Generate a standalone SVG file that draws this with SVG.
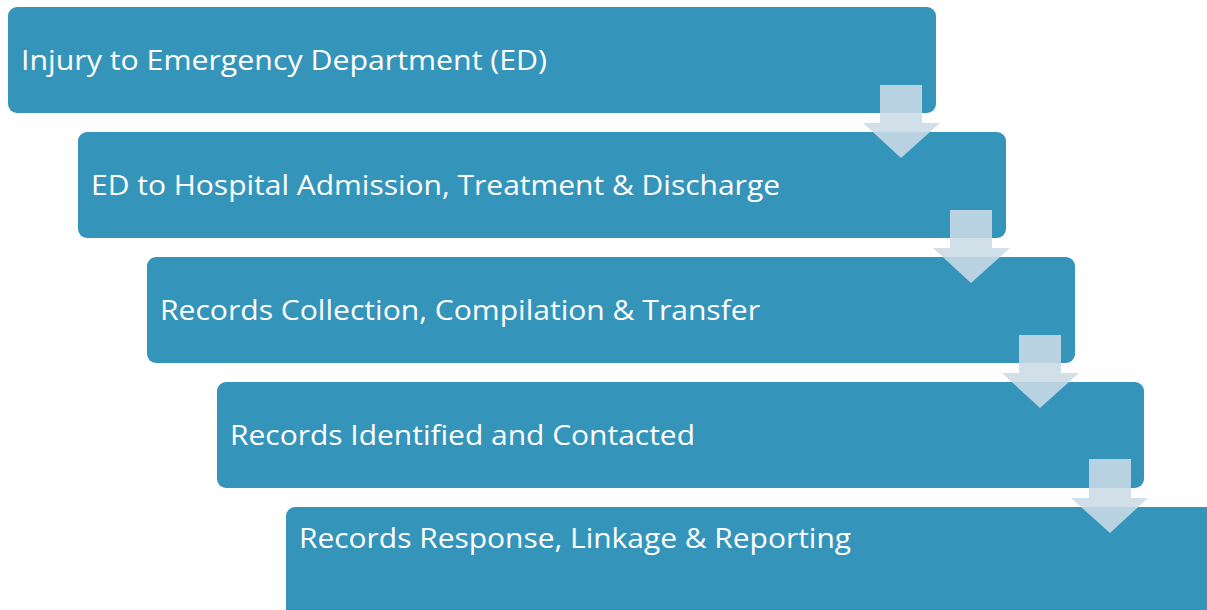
<svg xmlns="http://www.w3.org/2000/svg" width="1207" height="610" viewBox="0 0 1207 610">
<style>
.box{fill:#3594BA}
.lbl{font-family:"Open Sans","Liberation Sans",sans-serif;font-size:28px;fill:#FFFFFF}
.arr{fill:#CBDBE6;fill-opacity:0.88}
</style>
<rect width="1207" height="610" fill="#FFFFFF"/>
<g id="node1"><rect class="box" x="8" y="7" width="928" height="106" rx="9"/><text class="lbl" x="21" y="70" textLength="526" lengthAdjust="spacingAndGlyphs">Injury to Emergency Department (ED)</text></g>
<g id="node2"><rect class="box" x="78" y="132" width="928" height="106" rx="9"/><text class="lbl" x="91" y="195" textLength="689" lengthAdjust="spacingAndGlyphs">ED to Hospital Admission, Treatment &amp; Discharge</text></g>
<g id="node3"><rect class="box" x="147" y="257" width="928" height="106" rx="9"/><text class="lbl" x="160" y="320" textLength="600" lengthAdjust="spacingAndGlyphs">Records Collection, Compilation &amp; Transfer</text></g>
<g id="node4"><rect class="box" x="217" y="382" width="927" height="106" rx="9"/><text class="lbl" x="230" y="445" textLength="465" lengthAdjust="spacingAndGlyphs">Records Identified and Contacted</text></g>
<g id="node5"><rect class="box" x="286" y="507" width="940" height="130" rx="9"/><text class="lbl" x="299" y="548" textLength="552" lengthAdjust="spacingAndGlyphs">Records Response, Linkage &amp; Reporting</text></g>
<g id="connectors">
<path class="arr" d="M880,85 H922 V123 H940 L901,158 L863,123 H880 Z"/>
<path class="arr" d="M950,210 H992 V248 H1010 L971,283 L933,248 H950 Z"/>
<path class="arr" d="M1019,335 H1061 V373 H1079 L1040,408 L1002,373 H1019 Z"/>
<path class="arr" d="M1089,459 H1131 V498 H1148 L1110,533 L1071,498 H1089 Z"/>
</g>
</svg>
